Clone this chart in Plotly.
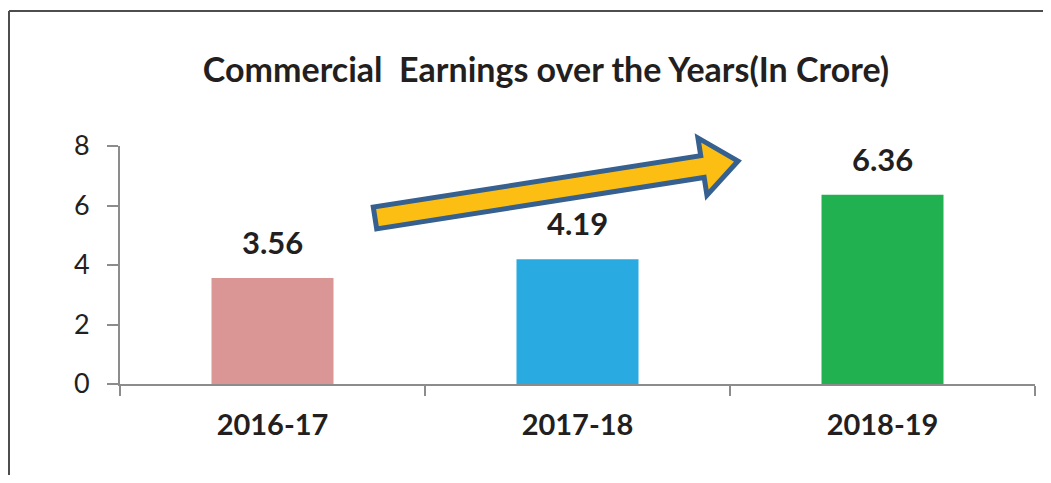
import plotly.graph_objects as go
import math

# ---- data ----
years = ["2016-17", "2017-18", "2018-19"]
earnings = [3.56, 4.19, 6.36]
bar_colors = ["#D99694", "#29ABE2", "#21B150"]
y_ticks = [0, 2, 4, 6, 8]
title_text = "Commercial  Earnings over the Years(In Crore)"

OFF = 8  # page body margin
W, H = 1051 - OFF - 4, 483 - 2 * OFF
L, T = 120 - OFF, 146 - OFF
R = W - (1035 - OFF)
B = H - (384 - OFF)
PW, PH = W - L - R, H - T - B
FONT = "Lato, 'Open Sans', sans-serif"

fig = go.Figure()
fig.add_trace(go.Bar(
    x=years, y=earnings, marker=dict(color=bar_colors, line=dict(width=0)),
    width=0.4, showlegend=False, hoverinfo="skip",
))

annotations = []
for yr, v in zip(years, earnings):
    annotations.append(dict(
        x=yr, y=v, xref="x", yref="y", text=f"<b>{v:.2f}</b>", showarrow=False,
        yanchor="middle", yshift=36, font=dict(family=FONT, size=31, color="#231F20"),
    ))

# screen pixel -> paper coordinates
def px(xs, ys):
    xf, yf = xs - OFF, ys - OFF
    return (xf - L) / PW, (H - B - yf) / PH

tail = (375, 218)
tip = (738, 161)
dx, dy = tip[0] - tail[0], tip[1] - tail[1]
ln = math.hypot(dx, dy)
ux, uy = dx / ln, dy / ln
nx, ny = -uy, ux
hw, hhw, hl = 11, 29, 36
bx, by = tip[0] - hl * ux, tip[1] - hl * uy
pts = [
    (tail[0] + hw * nx, tail[1] + hw * ny),
    (bx + hw * nx, by + hw * ny),
    (bx + hhw * nx, by + hhw * ny),
    tip,
    (bx - hhw * nx, by - hhw * ny),
    (bx - hw * nx, by - hw * ny),
    (tail[0] - hw * nx, tail[1] - hw * ny),
]
path = "M " + " L ".join(f"{px(a, b)[0]:.5f},{px(a, b)[1]:.5f}" for a, b in pts) + " Z"

shapes = [
    dict(type="path", path=path, xref="paper", yref="paper",
         fillcolor="#FDBE14", line=dict(color="#35608F", width=5), layer="above"),
    # outer frame (top and left edges visible)
    dict(type="line", xref="paper", yref="paper",
         x0=px(9, 11)[0], y0=px(9, 11)[1], x1=px(1070, 11)[0], y1=px(1070, 11)[1],
         line=dict(color="#4D4D4D", width=2)),
    dict(type="line", xref="paper", yref="paper",
         x0=px(9, 11)[0], y0=px(9, 11)[1], x1=px(9, 500)[0], y1=px(9, 500)[1],
         line=dict(color="#4D4D4D", width=2)),
]

fig.update_layout(
    width=W, height=H,
    margin=dict(l=L, r=R, t=T, b=B, autoexpand=False),
    paper_bgcolor="white", plot_bgcolor="white",
    title=dict(text=f"<b>{title_text}</b>", x=(546 - OFF) / W, xanchor="center",
               y=1 - 62 / H, yanchor="middle", yref="container",
               font=dict(family=FONT, size=34, color="#231F20")),
    annotations=annotations,
    shapes=shapes,
    bargap=0.6,
)
fig.update_xaxes(
    type="category", showline=True, linecolor="#8C8C8C", linewidth=2,
    ticks="outside", tickson="boundaries", ticklen=10, tickcolor="#8C8C8C", tickwidth=2,
    showgrid=False, zeroline=False, ticklabelstandoff=14,
    tickfont=dict(family=FONT, size=29, color="#231F20"),
    tickprefix="<b>", ticksuffix="</b>",
)
fig.update_yaxes(
    range=[0, 8], tickvals=y_ticks, showline=True, linecolor="#8C8C8C", linewidth=2,
    ticks="outside", ticklen=11, tickcolor="#8C8C8C", tickwidth=2,
    showgrid=False, zeroline=False, ticklabelstandoff=12,
    tickfont=dict(family=FONT, size=27, color="#231F20"),
)

fig.write_html("out.html")
